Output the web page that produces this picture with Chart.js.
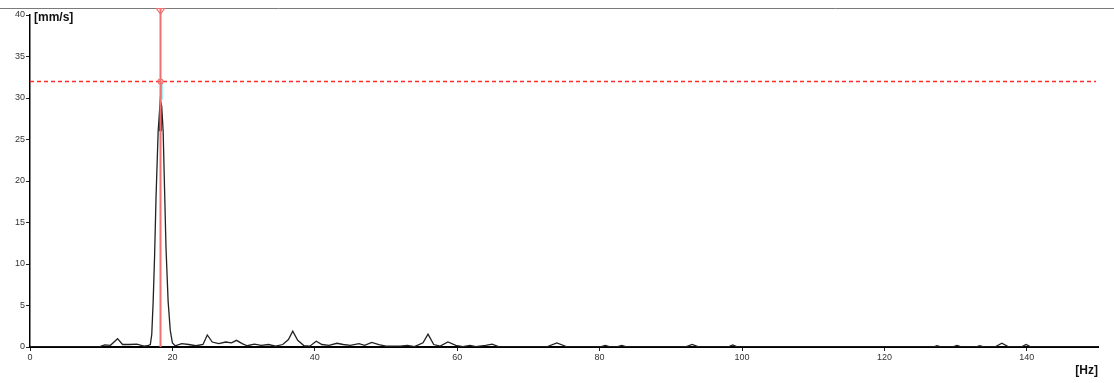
<!DOCTYPE html>
<html>
<head>
<meta charset="utf-8">
<script src="https://cdn.jsdelivr.net/npm/chart.js@4.4.1/dist/chart.umd.min.js"></script>
<style>
  html, body { margin: 0; padding: 0; background: #fff; }
  #wrap { width: 1114px; height: 383px; position: relative; }
</style>
</head>
<body>
<div id="wrap"><canvas id="spec"></canvas></div>
<script>
// frequenz (Hz) und amplitude (mm/s)
const freqHz = [
  0, 9.6, 10.5, 11.3, 12.3, 13.0, 14.0, 15.0, 16.0, 16.5, 16.9, 17.1, 17.3, 17.5, 17.7,
  18.0, 18.3, 18.5, 18.7, 18.9, 19.1, 19.4, 19.7, 20.0, 20.4, 21.3, 22.3, 23.3, 24.3,
  24.9, 25.6, 26.5, 27.5, 28.3, 29.0, 29.8, 30.5, 31.5, 32.5, 33.5, 34.5, 35.5, 36.3,
  36.9, 37.6, 38.5, 39.3, 40.2, 41.0, 42.0, 43.1, 44.0, 45.0, 46.2, 47.0, 48.0, 49.0,
  50.0, 52.0, 53.0, 54.0, 55.2, 55.9, 56.7, 57.6, 58.7, 59.8, 60.8, 61.8, 62.6, 64.0,
  64.9, 65.8, 72.5, 74.0, 75.5, 80.0, 80.8, 81.6, 82.3, 83.1, 83.9, 92.0, 93.0, 94.0,
  98.0, 98.7, 99.4, 126.8, 127.4, 128.0, 129.5, 130.2, 130.9, 132.8, 133.4, 134.0,
  135.5, 136.5, 137.5, 139.2, 139.9, 140.6, 150
];
const ampMms = [
  0, 0, 0.25, 0.2, 1.0, 0.3, 0.3, 0.35, 0.1, 0.15, 0.3, 1.5, 5.5, 11, 18,
  26, 29.8, 29, 26, 19, 12, 5.5, 2, 0.5, 0.15, 0.4, 0.3, 0.15, 0.3,
  1.45, 0.6, 0.4, 0.6, 0.5, 0.8, 0.4, 0.15, 0.35, 0.2, 0.3, 0.1, 0.3, 0.9,
  1.9, 0.8, 0.15, 0.1, 0.7, 0.3, 0.2, 0.45, 0.3, 0.2, 0.4, 0.2, 0.55, 0.3,
  0.1, 0.1, 0.2, 0.05, 0.5, 1.55, 0.3, 0.1, 0.6, 0.2, 0.05, 0.2, 0.05, 0.2,
  0.35, 0.05, 0, 0.5, 0, 0, 0.2, 0, 0, 0.2, 0, 0, 0.3, 0,
  0, 0.25, 0, 0, 0.15, 0, 0, 0.2, 0, 0, 0.15, 0,
  0, 0.45, 0, 0, 0.3, 0, 0
];
const xTicks = [0, 20, 40, 60, 80, 100, 120, 140];
const yTicks = [0, 5, 10, 15, 20, 25, 30, 35, 40];

// cursor / grenzwert
const markerHz = 18.26;
const peakHz = 18.4;
const peakAmp = 29.8;
const limitMms = 32;

const points = freqHz.map((f, i) => ({ x: f, y: ampMms[i] }));

// linien, marker, einheiten
const overlay = {
  id: 'overlay',
  beforeDraw(chart) {
    const c = chart.ctx;
    c.save();
    c.strokeStyle = '#7a7a7a';
    c.lineWidth = 1;
    c.beginPath();
    c.moveTo(0, 8.5);
    c.lineTo(chart.width, 8.5);
    c.stroke();
    c.restore();
  },
  afterDatasetsDraw(chart) {
    const c = chart.ctx;
    const xs = chart.scales.x, ys = chart.scales.y;
    const ca = chart.chartArea;
    const mx = Math.round(xs.getPixelForValue(markerHz)) + 0.5;
    const ly = Math.round(ys.getPixelForValue(limitMms)) + 0.5;
    const px = Math.round(xs.getPixelForValue(peakHz)) + 0.5;
    c.save();
    // grenzwert gestrichelt
    c.strokeStyle = '#ff2a2a';
    c.lineWidth = 1.3;
    c.setLineDash([4, 3]);
    c.beginPath();
    c.moveTo(ca.left, ly);
    c.lineTo(ca.right - 2, ly);
    c.stroke();
    c.setLineDash([]);
    // cyan bis zur spitze
    c.strokeStyle = '#40e8f0';
    c.lineWidth = 2;
    c.beginPath();
    c.moveTo(px, ly);
    c.lineTo(px, ys.getPixelForValue(peakAmp));
    c.stroke();
    // dunkelrot an der spitze
    c.strokeStyle = '#5a0a0a';
    c.lineWidth = 3;
    c.beginPath();
    c.moveTo(px - 1, ys.getPixelForValue(28.8));
    c.lineTo(px - 1, ys.getPixelForValue(26));
    c.stroke();
    // cursor
    c.strokeStyle = '#f07070';
    c.lineWidth = 2;
    c.beginPath();
    c.moveTo(mx, 9);
    c.lineTo(mx, ca.bottom);
    c.stroke();
    c.lineWidth = 1.2;
    c.beginPath();
    c.moveTo(mx - 4, 8.5);
    c.lineTo(mx + 4, 8.5);
    c.lineTo(mx, 14);
    c.closePath();
    c.stroke();
    c.beginPath();
    c.arc(mx, ly, 2.5, 0, Math.PI * 2);
    c.stroke();
    // einheiten
    c.fillStyle = '#111';
    c.font = 'bold 12px "Liberation Sans", Arial, sans-serif';
    c.textBaseline = 'middle';
    c.textAlign = 'left';
    c.fillText('[mm/s]', 34, 18);
    c.textAlign = 'right';
    c.fillText('[Hz]', 1098, 371);
    c.restore();
  }
};

const ctx = document.getElementById('spec').getContext('2d');
new Chart(ctx, {
  type: 'line',
  data: {
    datasets: [{
      data: points,
      borderColor: '#222',
      borderWidth: 1.3,
      pointRadius: 0,
      tension: 0,
      fill: false
    }]
  },
  options: {
    responsive: true,
    maintainAspectRatio: false,
    animation: false,
    layout: { padding: { top: 15, right: 16, left: 0, bottom: 0 } },
    plugins: { legend: { display: false }, tooltip: { enabled: false } },
    scales: {
      x: {
        type: 'linear',
        min: 0,
        max: 150,
        afterBuildTicks: s => { s.ticks = xTicks.map(v => ({ value: v })); },
        afterFit: s => { s.height = 36; },
        grid: { display: true, drawOnChartArea: false, drawTicks: true, tickLength: 4, color: '#222' },
        border: { display: true, color: '#000', width: 2 },
        ticks: { color: '#333', font: { size: 9, family: 'Arial, "Liberation Sans", sans-serif' }, padding: 1, maxRotation: 0 }
      },
      y: {
        min: 0,
        max: 40,
        afterBuildTicks: s => { s.ticks = yTicks.map(v => ({ value: v })); },
        afterFit: s => { s.width = 30; },
        grid: { display: true, drawOnChartArea: false, drawTicks: true, tickLength: 4, color: '#222' },
        border: { display: true, color: '#000', width: 1.5 },
        ticks: { color: '#333', font: { size: 9, family: 'Arial, "Liberation Sans", sans-serif' }, padding: 1 }
      }
    }
  },
  plugins: [overlay]
});
</script>
</body>
</html>
